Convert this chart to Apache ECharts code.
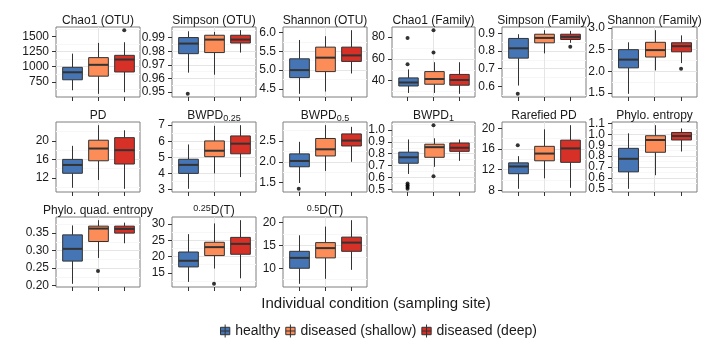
<!DOCTYPE html>
<html>
<head>
<meta charset="utf-8">
<script src="https://cdn.jsdelivr.net/npm/echarts@6/dist/echarts.min.js"></script>
<style>
  html, body { margin: 0; background: #fff; }
  #chart { width: 708px; height: 354px; }
</style>
</head>
<body>
<div id="chart"></div>
<script>
var FONT = "'Liberation Sans', Arial, Helvetica, sans-serif";
var groups = ['healthy', 'diseased (shallow)', 'diseased (deep)'];
var groupColors = ['#4575B4', '#FC8D59', '#D73027'];

// one row per group: [min, q1, median, q3, max]
var chao1Otu = [[608, 783, 908, 990, 1218], [549, 843, 1032, 1152, 1397], [576, 913, 1120, 1190, 1408]];
var chao1OtuOut = [[], [], [1609]];
var simpsonOtu = [[0.9643, 0.9782, 0.9856, 0.9900, 0.9946], [0.9628, 0.9790, 0.9885, 0.9917, 0.9941], [0.9790, 0.9860, 0.9885, 0.9917, 0.9954]];
var simpsonOtuOut = [[0.9488], [], []];
var shannonOtu = [[4.37, 4.80, 5.00, 5.30, 5.80], [4.43, 4.96, 5.33, 5.61, 5.90], [4.91, 5.23, 5.39, 5.61, 6.06]];
var shannonOtuOut = [[], [], []];
var chao1Fam = [[28.8, 35.2, 38.4, 42.6, 50.4], [28.8, 36.8, 41.6, 48.4, 57], [28, 35.9, 40.7, 45.8, 57]];
var chao1FamOut = [[55.2, 79.3], [66, 86.4], []];
var simpsonFam = [[0.604, 0.760, 0.816, 0.872, 0.896], [0.787, 0.847, 0.875, 0.896, 0.919], [0.847, 0.866, 0.881, 0.896, 0.915]];
var simpsonFamOut = [[0.557], [], [0.825]];
var shannonFam = [[1.48, 2.08, 2.27, 2.50, 2.67], [2.02, 2.33, 2.49, 2.67, 2.95], [2.19, 2.45, 2.58, 2.66, 2.83]];
var shannonFamOut = [[], [], [2.06]];
var pd = [[9.86, 13.0, 14.8, 16.0, 18.93], [11.56, 15.7, 18.35, 20.15, 23.4], [9.64, 15.0, 18.0, 20.7, 22.3]];
var pdOut = [[], [], []];
var bwpd025 = [[3.04, 4.0, 4.53, 4.88, 5.8], [4.0, 5.04, 5.41, 6.02, 6.96], [3.77, 5.22, 5.85, 6.33, 7.0]];
var bwpd025Out = [[], [], []];
var bwpd05 = [[1.49, 1.88, 2.02, 2.19, 2.48], [1.78, 2.14, 2.30, 2.56, 2.88], [2.0, 2.38, 2.51, 2.67, 2.84]];
var bwpd05Out = [[1.35], [], []];
var bwpd1 = [[0.63, 0.72, 0.77, 0.813, 0.92], [0.69, 0.77, 0.855, 0.88, 0.93], [0.74, 0.82, 0.85, 0.89, 0.92]];
var bwpd1Out = [[0.505, 0.52, 0.535, 0.55], [0.61, 1.04], []];
var rarefiedPd = [[8.27, 11.2, 12.6, 13.3, 14.6], [10.3, 13.7, 15.1, 16.5, 19.8], [8.46, 13.4, 16.1, 17.7, 20.6]];
var rarefiedPdOut = [[16.7], [], []];
var phyloEnt = [[0.50, 0.656, 0.776, 0.872, 1.01], [0.625, 0.836, 0.949, 0.988, 1.085], [0.843, 0.949, 0.985, 1.018, 1.055]];
var phyloEntOut = [[], [], []];
var phyloQuad = [[0.205, 0.270, 0.305, 0.345, 0.372], [0.279, 0.326, 0.363, 0.370, 0.387], [0.321, 0.350, 0.362, 0.370, 0.380]];
var phyloQuadOut = [[], [0.242], []];
var dT025 = [[12.2, 16.8, 18.7, 21.4, 26.9], [16.3, 20.3, 22.9, 24.4, 30.2], [13.3, 20.7, 23.9, 25.9, 31.2]];
var dT025Out = [[], [11.6], []];
var dT05 = [[6.6, 10.0, 12.26, 13.7, 17.2], [7.7, 12.26, 14.4, 15.6, 19.1], [9.65, 13.7, 15.6, 16.8, 20.5]];
var dT05Out = [[], [], []];

var titles = ['Chao1 (OTU)', 'Simpson (OTU)', 'Shannon (OTU)', 'Chao1 (Family)', 'Simpson (Family)', 'Shannon (Family)',
  'PD', 'BWPD{sub|0.25}', 'BWPD{sub|0.5}', 'BWPD{sub|1}', 'Rarefied PD', 'Phylo. entropy',
  'Phylo. quad. entropy', '{sup|0.25}D(T)', '{sup|0.5}D(T)'];
var tickLabels = [
  ['750', '1000', '1250', '1500'], ['0.95', '0.96', '0.97', '0.98', '0.99'], ['4.5', '5.0', '5.5', '6.0'],
  ['40', '60', '80'], ['0.6', '0.7', '0.8', '0.9'], ['1.5', '2.0', '2.5', '3.0'],
  ['12', '16', '20'], ['3', '4', '5', '6', '7'], ['1.5', '2.0', '2.5'],
  ['0.5', '0.6', '0.7', '0.8', '0.9', '1.0'], ['8', '12', '16', '20'], ['0.5', '0.6', '0.7', '0.8', '0.9', '1.0', '1.1'],
  ['0.20', '0.25', '0.30', '0.35'], ['15', '20', '25', '30'], ['10', '15', '20']
];
var stats = [chao1Otu, simpsonOtu, shannonOtu, chao1Fam, simpsonFam, shannonFam,
  pd, bwpd025, bwpd05, bwpd1, rarefiedPd, phyloEnt, phyloQuad, dT025, dT05];
var outliers = [chao1OtuOut, simpsonOtuOut, shannonOtuOut, chao1FamOut, simpsonFamOut, shannonFamOut,
  pdOut, bwpd025Out, bwpd05Out, bwpd1Out, rarefiedPdOut, phyloEntOut, phyloQuadOut, dT025Out, dT05Out];

// facet layout (px)
var colLeft = [56, 172, 283, 392, 502, 612];
var colWidth = [84, 84, 84, 83, 84, 85];
var rowTop = [27, 122, 217];
var panelHeight = 70;

function renderBox(params, api) {
  var x = api.value(0);
  var lo = api.coord([x, api.value(1)]);
  var q1 = api.coord([x, api.value(2)]);
  var md = api.coord([x, api.value(3)]);
  var q3 = api.coord([x, api.value(4)]);
  var hi = api.coord([x, api.value(5)]);
  var w = api.size([0.75, 0])[0];
  var cx = Math.round(lo[0]) + 0.5;
  return {
    type: 'group',
    children: [
      { type: 'line', shape: { x1: cx, y1: hi[1], x2: cx, y2: q3[1] }, style: { stroke: '#333', lineWidth: 1 } },
      { type: 'line', shape: { x1: cx, y1: q1[1], x2: cx, y2: lo[1] }, style: { stroke: '#333', lineWidth: 1 } },
      { type: 'rect', shape: { x: cx - w / 2, y: q3[1], width: w, height: q1[1] - q3[1] },
        style: { fill: api.visual('color'), stroke: '#333', lineWidth: 1 } },
      { type: 'line', shape: { x1: cx - w / 2, y1: md[1], x2: cx + w / 2, y2: md[1] }, style: { stroke: '#333', lineWidth: 2 } }
    ]
  };
}

var grids = [], xAxes = [], yAxes = [], labelAxes = [], series = [], titleList = [];
var richStyles = {
  sub: { fontSize: 9, fontFamily: FONT, color: '#1a1a1a', verticalAlign: 'bottom', lineHeight: 6 },
  sup: { fontSize: 9, fontFamily: FONT, color: '#1a1a1a', verticalAlign: 'top', lineHeight: 6 }
};

function tickLabelStyle(vals, labels) {
  return {
    customValues: vals, margin: 7, fontSize: 12, color: '#1a1a1a', fontFamily: FONT,
    showMinLabel: true, showMaxLabel: true, hideOverlap: false,
    formatter: function (v) { return labels[vals.indexOf(v)]; }
  };
}

stats.forEach(function (panel, i) {
  var row = Math.floor(i / 6), col = i % 6;
  var left = colLeft[col], top = rowTop[row], width = colWidth[col];
  grids.push({
    left: left, top: top, width: width, height: panelHeight,
    show: true, backgroundColor: '#fff', borderColor: '#7f7f7f', borderWidth: 1,
    containLabel: false, outerBoundsMode: 'none'
  });
  titleList.push({
    text: titles[i], left: left + width / 2, top: top - 13, textAlign: 'center', padding: 0,
    textStyle: { fontSize: 12, fontWeight: 'normal', color: '#1a1a1a', fontFamily: FONT, lineHeight: 14, rich: richStyles }
  });

  // ggplot-style range: data range padded by 5%
  var lo = Infinity, hi = -Infinity;
  panel.forEach(function (s, g) {
    lo = Math.min(lo, s[0]); hi = Math.max(hi, s[4]);
    outliers[i][g].forEach(function (v) { lo = Math.min(lo, v); hi = Math.max(hi, v); });
  });
  var pad = (hi - lo) * 0.05;
  var labels = tickLabels[i];
  var tickVals = labels.map(Number);
  var step = +(tickVals[1] - tickVals[0]).toFixed(6);
  // tightly packed labels get hidden by echarts, so odd ones go on a second, label-only axis
  var evenVals = tickVals.filter(function (v, k) { return k % 2 === 0; });
  var oddVals = tickVals.filter(function (v, k) { return k % 2 === 1; });

  xAxes.push({
    type: 'value', gridIndex: i, min: 0.4, max: 3.6, minInterval: 1, maxInterval: 1,
    axisLine: { show: false },
    axisTick: { show: true, length: 4, customValues: [1, 2, 3], lineStyle: { color: '#333' } },
    axisLabel: { show: false },
    splitLine: { show: true, showMinLine: false, showMaxLine: false, lineStyle: { color: '#e5e5e5', width: 1 } }
  });
  yAxes.push({
    type: 'value', gridIndex: i, min: lo - pad, max: hi + pad, minInterval: step, maxInterval: step,
    axisLine: { show: false },
    axisTick: { show: true, length: 4, customValues: tickVals, lineStyle: { color: '#333' } },
    axisLabel: tickLabelStyle(evenVals, labels.filter(function (l, k) { return k % 2 === 0; })),
    splitLine: { show: true, showMinLine: false, showMaxLine: false, lineStyle: { color: '#e5e5e5', width: 1 } },
    minorTick: { show: false, splitNumber: 2 },
    minorSplitLine: { show: true, lineStyle: { color: '#f7f7f7', width: 1 } }
  });
  labelAxes.push({
    type: 'value', gridIndex: i, position: 'left', offset: 0, min: lo - pad, max: hi + pad,
    minInterval: step, maxInterval: step,
    axisLine: { show: false }, axisTick: { show: false }, splitLine: { show: false },
    axisLabel: oddVals.length ? tickLabelStyle(oddVals, labels.filter(function (l, k) { return k % 2 === 1; })) : { show: false }
  });

  panel.forEach(function (s, g) {
    series.push({
      type: 'custom', name: groups[g], xAxisIndex: i, yAxisIndex: i,
      itemStyle: { color: groupColors[g] },
      renderItem: renderBox,
      encode: { x: 0, y: [1, 2, 3, 4, 5] },
      data: [[g + 1].concat(s)]
    });
    if (outliers[i][g].length) {
      series.push({
        type: 'scatter', name: groups[g], xAxisIndex: i, yAxisIndex: i,
        symbolSize: 4, itemStyle: { color: '#000' }, silent: true,
        data: outliers[i][g].map(function (v) { return [g + 1, v]; })
      });
    }
  });
});

titleList.push({
  text: 'Individual condition (sampling site)', left: 376, top: 296, textAlign: 'center', padding: 0,
  textStyle: { fontSize: 15, fontWeight: 'normal', color: '#1a1a1a', fontFamily: FONT }
});

var chart = echarts.init(document.getElementById('chart'), null, { renderer: 'canvas' });
chart.setOption({
  animation: false,
  backgroundColor: '#fff',
  title: titleList,
  legend: {
    data: groups.map(function (g, k) {
      return { name: g, icon: 'path://M5,0V14M0,3H10V11H0ZM0,7H10',
        itemStyle: { color: groupColors[k], borderColor: '#333', borderWidth: 1 } };
    }),
    left: 215, top: 319, itemWidth: 10, itemHeight: 13, itemGap: 5,
    textStyle: { fontSize: 14, color: '#1a1a1a', fontFamily: FONT }
  },
  grid: grids,
  xAxis: xAxes,
  yAxis: yAxes.concat(labelAxes),
  series: series
});
</script>
</body>
</html>
